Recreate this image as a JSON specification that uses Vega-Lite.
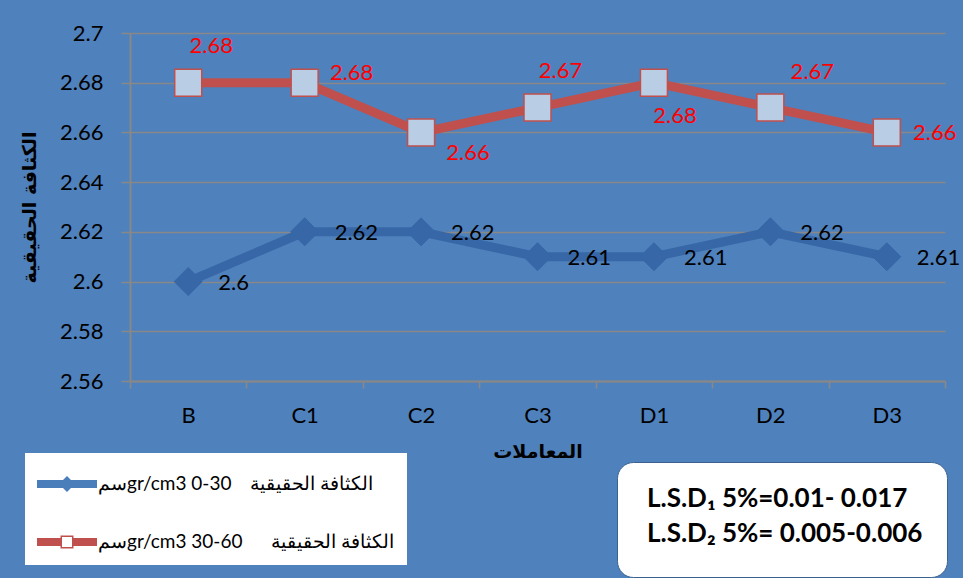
{
  "$schema": "https://vega.github.io/schema/vega-lite/v6.json",
  "width": 815,
  "height": 348,
  "autosize": {"type": "none"},
  "padding": {"left": 130, "top": 33, "right": 18, "bottom": 197},
  "background": "#4F81BD",
  "config": {
    "view": {"fill": "#E8E8E8", "stroke": null},
    "font": "Lato"
  },
  "datasets": {
    "density": [
      {"treatment": "B", "depth": "0-30", "value": 2.6},
      {"treatment": "C1", "depth": "0-30", "value": 2.62},
      {"treatment": "C2", "depth": "0-30", "value": 2.62},
      {"treatment": "C3", "depth": "0-30", "value": 2.61},
      {"treatment": "D1", "depth": "0-30", "value": 2.61},
      {"treatment": "D2", "depth": "0-30", "value": 2.62},
      {"treatment": "D3", "depth": "0-30", "value": 2.61},
      {"treatment": "B", "depth": "30-60", "value": 2.68},
      {"treatment": "C1", "depth": "30-60", "value": 2.68},
      {"treatment": "C2", "depth": "30-60", "value": 2.66},
      {"treatment": "C3", "depth": "30-60", "value": 2.67},
      {"treatment": "D1", "depth": "30-60", "value": 2.68},
      {"treatment": "D2", "depth": "30-60", "value": 2.67},
      {"treatment": "D3", "depth": "30-60", "value": 2.66}
    ],
    "lsd": [
      {"line": "L.S.D₁ 5%=0.01- 0.017"},
      {"line": "L.S.D₂ 5%= 0.005-0.006"}
    ]
  },
  "layer": [
    {
      "data": {"name": "density"},
      "encoding": {
        "x": {
          "field": "treatment",
          "type": "nominal",
          "sort": null,
          "scale": {"type": "band", "paddingInner": 0, "paddingOuter": 0},
          "axis": {
            "title": "المعاملات",
            "titleFont": "DejaVu Sans",
            "titleFontWeight": "bold",
            "titleFontSize": 19,
            "titleColor": "black",
            "titlePadding": 16,
            "labelAngle": 0,
            "labelFontSize": 22,
            "labelColor": "black",
            "labelPadding": 17,
            "tickBand": "extent",
            "ticks": true,
            "tickSize": 7,
            "tickColor": "#888888",
            "tickWidth": 1.5,
            "domainColor": "#888888",
            "domainWidth": 2,
            "grid": false
          }
        },
        "y": {
          "field": "value",
          "type": "quantitative",
          "scale": {"domain": [2.56, 2.7], "zero": false, "nice": false},
          "axis": {
            "title": "الكثافة الحقيقية",
            "titleFont": "DejaVu Sans",
            "titleFontWeight": "bold",
            "titleFontSize": 19,
            "titleColor": "black",
            "titlePadding": 20,
            "values": [2.56, 2.58, 2.6, 2.62, 2.64, 2.66, 2.68, 2.7],
            "format": "~g",
            "labelFontSize": 22,
            "labelColor": "black",
            "labelPadding": 18,
            "tickSize": 9,
            "tickColor": "#888888",
            "tickWidth": 1.5,
            "domainColor": "#888888",
            "domainWidth": 2,
            "grid": true,
            "gridColor": "#888888",
            "gridWidth": 1.5
          }
        }
      },
      "layer": [
        {
          "mark": {"type": "line", "strokeWidth": 9},
          "encoding": {
            "stroke": {
              "field": "depth",
              "type": "nominal",
              "scale": {"domain": ["0-30", "30-60"], "range": ["#3767A6", "#C0504D"]},
              "legend": {
                "title": null,
                "orient": "none",
                "legendX": -105,
                "legendY": 420,
                "fillColor": "white",
                "padding": 13,
                "symbolSize": 1296,
                "symbolOffset": 11,
                "labelOffset": 13,
                "rowPadding": 30,
                "labelFont": "Lato",
                "labelFontSize": 19,
                "labelColor": "black",
                "labelLimit": 500,
                "labelExpr": "datum.value == '0-30' ? 'سمgr/cm3 0-30\u2002\u2002الكثافة الحقيقية' : 'سمgr/cm3 30-60\u2002\u2002\u2002الكثافة الحقيقية'",
                "encode": {
                  "symbols": {
                    "update": {
                      "shape": {"signal": "datum.value == '0-30' ? 'M-1.667,-0.222L1.667,-0.222L1.667,0.222L-1.667,0.222Z M-0.444,0L0,-0.444L0.444,0L0,0.444Z' : 'M-1.667,-0.222L-0.361,-0.222L-0.361,0.222L-1.667,0.222Z M0.361,-0.222L1.667,-0.222L1.667,0.222L0.361,0.222Z M-0.361,-0.361L0.361,-0.361L0.361,0.361L-0.361,0.361Z M-0.278,-0.278L-0.278,0.278L0.278,0.278L0.278,-0.278Z'"},
                      "fill": {"signal": "datum.value == '0-30' ? '#4A7EBB' : '#C0504D'"},
                      "stroke": {"value": "transparent"},
                      "strokeWidth": {"value": 0},
                      "opacity": {"value": 1}
                    }
                  }
                }
              }
            }
          }
        },
        {
          "transform": [{"filter": "datum.depth == '0-30'"}],
          "mark": {"type": "point", "shape": "diamond", "filled": true, "fill": "#3767A6", "stroke": "#3767A6", "strokeWidth": 1, "size": 784, "opacity": 1}
        },
        {
          "transform": [{"filter": "datum.depth == '30-60'"}],
          "mark": {"type": "point", "shape": "square", "filled": true, "fill": "#B9CDE5", "stroke": "#C0504D", "strokeWidth": 1.5, "size": 729, "opacity": 1}
        },
        {
          "transform": [{"filter": "datum.depth == '0-30'"}],
          "mark": {"type": "text", "align": "left", "baseline": "middle", "dx": 30, "dy": 1, "fontSize": 22, "fill": "black"},
          "encoding": {"text": {"field": "value", "type": "quantitative", "format": "~g"}}
        },
        {
          "transform": [{"filter": "datum.depth == '30-60' && (datum.treatment == 'B' || datum.treatment == 'C3')"}],
          "mark": {"type": "text", "align": "center", "baseline": "middle", "dx": 23, "dy": -37, "fontSize": 22, "fill": "#FF0000"},
          "encoding": {"text": {"field": "value", "type": "quantitative", "format": "~g"}}
        },
        {
          "transform": [{"filter": "datum.depth == '30-60' && datum.treatment == 'D2'"}],
          "mark": {"type": "text", "align": "center", "baseline": "middle", "dx": 42, "dy": -36, "fontSize": 22, "fill": "#FF0000"},
          "encoding": {"text": {"field": "value", "type": "quantitative", "format": "~g"}}
        },
        {
          "transform": [{"filter": "datum.depth == '30-60' && datum.treatment == 'C1'"}],
          "mark": {"type": "text", "align": "center", "baseline": "middle", "dx": 47, "dy": -10, "fontSize": 22, "fill": "#FF0000"},
          "encoding": {"text": {"field": "value", "type": "quantitative", "format": "~g"}}
        },
        {
          "transform": [{"filter": "datum.depth == '30-60' && datum.treatment == 'D3'"}],
          "mark": {"type": "text", "align": "center", "baseline": "middle", "dx": 48, "dy": 1, "fontSize": 22, "fill": "#FF0000"},
          "encoding": {"text": {"field": "value", "type": "quantitative", "format": "~g"}}
        },
        {
          "transform": [{"filter": "datum.depth == '30-60' && datum.treatment == 'C2'"}],
          "mark": {"type": "text", "align": "center", "baseline": "middle", "dx": 47, "dy": 21, "fontSize": 22, "fill": "#FF0000"},
          "encoding": {"text": {"field": "value", "type": "quantitative", "format": "~g"}}
        },
        {
          "transform": [{"filter": "datum.depth == '30-60' && datum.treatment == 'D1'"}],
          "mark": {"type": "text", "align": "center", "baseline": "middle", "dx": 21, "dy": 33, "fontSize": 22, "fill": "#FF0000"},
          "encoding": {"text": {"field": "value", "type": "quantitative", "format": "~g"}}
        }
      ]
    },
    {
      "data": {"name": "lsd"},
      "mark": {"type": "point", "opacity": 0},
      "encoding": {
        "color": {
          "field": "line",
          "type": "nominal",
          "legend": {
            "title": " ",
            "titleOrient": "bottom",
            "titleFontSize": 4,
            "titlePadding": 2,
            "orient": "none",
            "legendX": 487,
            "legendY": 429,
            "fillColor": "white",
            "strokeColor": "#3A6190",
            "cornerRadius": 16,
            "padding": 24,
            "symbolSize": 0,
            "symbolOpacity": 0,
            "symbolStrokeWidth": 0,
            "symbolOffset": 0,
            "labelOffset": -20,
            "labelFont": "Lato",
            "labelFontWeight": "bold",
            "labelFontSize": 26,
            "labelColor": "black",
            "labelLimit": 600,
            "rowPadding": 9,
            "encode": {
              "legend": {"update": {"strokeWidth": {"value": 4.5}}}
            }
          }
        }
      }
    }
  ]
}
